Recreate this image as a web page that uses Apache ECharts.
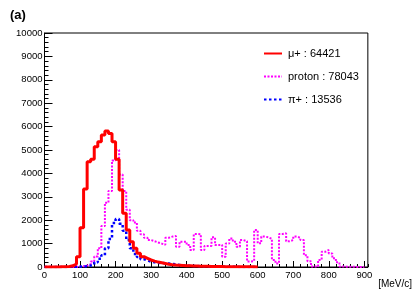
<!DOCTYPE html>
<html>
<head>
<meta charset="utf-8">
<script src="https://cdn.jsdelivr.net/npm/echarts@6/dist/echarts.min.js"></script>
<style>html,body{margin:0;padding:0;background:#fff}#c{width:415px;height:300px}</style>
</head>
<body>
<div id="c"></div>
<script>
// 10 MeV/c bins, values = counts per bin
var binWidth = 10;
var muPlus = [0,0,5,5,10,15,25,50,130,440,1680,3330,4500,4600,5140,5350,5640,5810,5710,5350,4600,3290,2300,1580,1080,800,585,440,370,300,250,210,180,150,120,100,85,75,65,55,50,45,40,35,30,28,25,22,20,18,15,14,12,11,10,9,8,7,6,5];
var proton = [0,0,0,0,0,0,0,5,10,20,30,60,120,230,450,800,1750,2750,3250,4550,5000,3950,3250,2450,2000,1900,1550,1400,1250,1150,1100,1050,1000,950,1250,1300,1320,870,1080,1080,940,730,1410,1400,730,900,900,1270,940,940,440,1000,1220,1080,870,1150,1100,230,250,1580,1010,1300,1270,1200,300,150,1410,1440,1100,1150,1300,1250,1150,500,250,20,20,300,650,730,580,370,200,20,15,10,10,5,5,5];
var piPlus = [0,0,0,0,5,5,5,10,10,15,20,30,60,100,200,350,500,800,1200,1880,2050,1850,1550,1150,800,560,430,330,280,230,200,180,170,160,150,130,110,90,70,60,50,45,40,35,30,25,20,18,15,12,10,8,7,6,5,4,3,3,2,2];
var seriesNames = ['\u03bc+ : 64421', 'proton : 78043', '\u03c0+ : 13536'];
var xTicks = [0,100,200,300,400,500,600,700,800,900];
var yMax = 10000, xMax = 910;

function toSteps(vals) {
  var pts = vals.map(function (v, i) { return [i * binWidth, v]; });
  pts.push([vals.length * binWidth, vals[vals.length - 1]]);
  return pts;
}
var font = 'Liberation Sans, Arial, sans-serif';
var chart = echarts.init(document.getElementById('c'), null, {renderer: 'canvas'});
chart.setOption({
  animation: false,
  backgroundColor: '#fff',
  title: {text: '(a)', left: 5, top: 4, textStyle: {fontFamily: font, fontWeight: 'bold', fontSize: 13, color: '#000'}},
  grid: {left: 44.5, right: 45, top: 33, bottom: 33, show: true, borderColor: '#000', borderWidth: 1, backgroundColor: 'transparent'},
  legend: {
    orient: 'vertical', left: 258, top: 43, itemWidth: 18, itemHeight: 12, itemGap: 12,
    data: seriesNames,
    itemStyle: {opacity: 0},
    textStyle: {fontFamily: font, fontSize: 11, color: '#000', padding: [0,0,0,1]}
  },
  xAxis: [{
    type: 'value', min: 0, max: xMax, interval: 100,
    axisLine: {show: true, lineStyle: {color: '#000', width: 1}},
    axisTick: {show: true, inside: true, length: 6, lineStyle: {color: '#000'}},
    minorTick: {show: false},
    splitLine: {show: false},
    axisLabel: {margin: 3, fontFamily: font, fontSize: 9.5, color: '#000', showMaxLabel: false,
      formatter: function (v) { return xTicks.indexOf(v) >= 0 ? String(v) : ''; }},
    name: '[MeV/c]', nameLocation: 'end', nameGap: 0,
    nameTextStyle: {fontFamily: font, fontSize: 10, color: '#000', align: 'right', verticalAlign: 'top', padding: [12,0,0,0]}
  }, {
    type: 'value', min: 0, max: xMax, interval: 20, position: 'bottom', offset: 0,
    axisLine: {show: false}, axisLabel: {show: false}, splitLine: {show: false},
    axisTick: {show: true, inside: true, length: 3, lineStyle: {color: '#000'}}
  }],
  yAxis: {
    type: 'value', min: 0, max: yMax, interval: 1000,
    axisLine: {show: true, lineStyle: {color: '#000', width: 1}},
    axisTick: {show: true, inside: true, length: 8, lineStyle: {color: '#000'}},
    minorTick: {show: true, splitNumber: 5, length: 4, lineStyle: {color: '#000'}},
    splitLine: {show: false},
    axisLabel: {margin: 2, fontFamily: font, fontSize: 9.5, color: '#000',
      formatter: function (v) { return String(v); }}
  },
  series: [{
    name: seriesNames[1], type: 'line', step: 'end', symbol: 'none', z: 2,
    data: toSteps(proton),
    lineStyle: {color: '#ff00ff', width: 2, type: [2, 1.5]}, itemStyle: {color: '#ff00ff'}
  }, {
    name: seriesNames[2], type: 'line', step: 'end', symbol: 'none', z: 3,
    data: toSteps(piPlus),
    lineStyle: {color: '#0000ff', width: 2.5, type: [2.5, 2.5]}, itemStyle: {color: '#0000ff'}
  }, {
    name: seriesNames[0], type: 'line', step: 'end', symbol: 'none', z: 4,
    data: toSteps(muPlus),
    lineStyle: {color: '#ff0000', width: 3}, itemStyle: {color: '#ff0000'}
  }]
});
</script>
</body>
</html>
